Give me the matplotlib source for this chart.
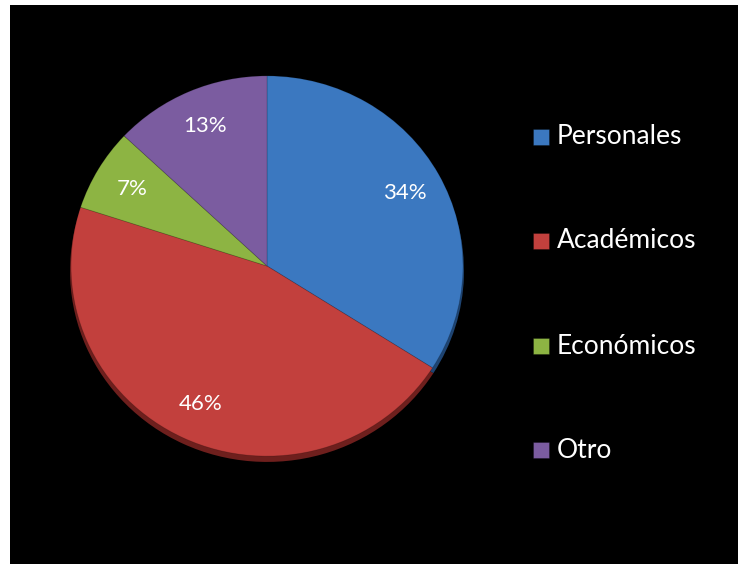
import matplotlib.pyplot as plt
from matplotlib.patches import Rectangle

categories = ["Personales", "Académicos", "Económicos", "Otro"]
shares = [34, 46, 7, 13]
colors = ["#3B78C0", "#C2403D", "#8DB443", "#7B5CA0"]
rim_colors = ["#1E4472", "#6E1F1D", "#4F6A24", "#45335E"]

W, H = 738, 564


def pie_chart():
    fig = plt.figure(figsize=(W / 100, H / 100), dpi=100, facecolor="white")
    fig.patches.append(
        Rectangle((10 / W, 0), 1 - 10 / W, 1 - 5 / H, transform=fig.transFigure,
                  facecolor="black", edgecolor="none", zorder=-5)
    )

    # pie axes: centre (267, 265) px, radii 200 x 194 px
    cx, cy, rx, ry = 267, 266, 200, 194
    ax = fig.add_axes([(cx - rx) / W, (H - cy - ry) / H, 2 * rx / W, 2 * ry / H])
    ax.set_facecolor("none")
    ax.set_zorder(2)

    # darker copy underneath gives the rim at the bottom edge
    ax.pie(shares, colors=rim_colors, startangle=90, counterclock=False,
           center=(0, -0.025), radius=0.985,
           wedgeprops=dict(linewidth=0))
    wedges, texts, autotexts = ax.pie(
        shares, colors=colors, startangle=90, counterclock=False,
        radius=0.98, autopct="%1.0f%%", pctdistance=0.8,
        wedgeprops=dict(linewidth=0.6, edgecolor="#00000030"),
        textprops=dict(color="white", fontsize=16, family="Lato"),
    )
    ax.set_aspect("auto")
    ax.set_xlim(-1, 1)
    ax.set_ylim(-1, 1)
    ax.axis("off")

    # legend drawn by hand to keep the wide spacing
    ys = [137, 241, 346, 450]
    for name, col, y in zip(categories, colors, ys):
        fig.patches.append(
            Rectangle((533 / W, (H - y - 8) / H), 16 / W, 16 / H,
                      transform=fig.transFigure, facecolor=col,
                      edgecolor="#00000060", linewidth=0.5)
        )
        fig.text(557 / W, (H - y) / H, name, color="white", fontsize=19,
                 family="Lato", ha="left", va="center")

    plt.savefig("out.png", dpi=100, facecolor=fig.get_facecolor())


if __name__ == "__main__":
    pie_chart()
